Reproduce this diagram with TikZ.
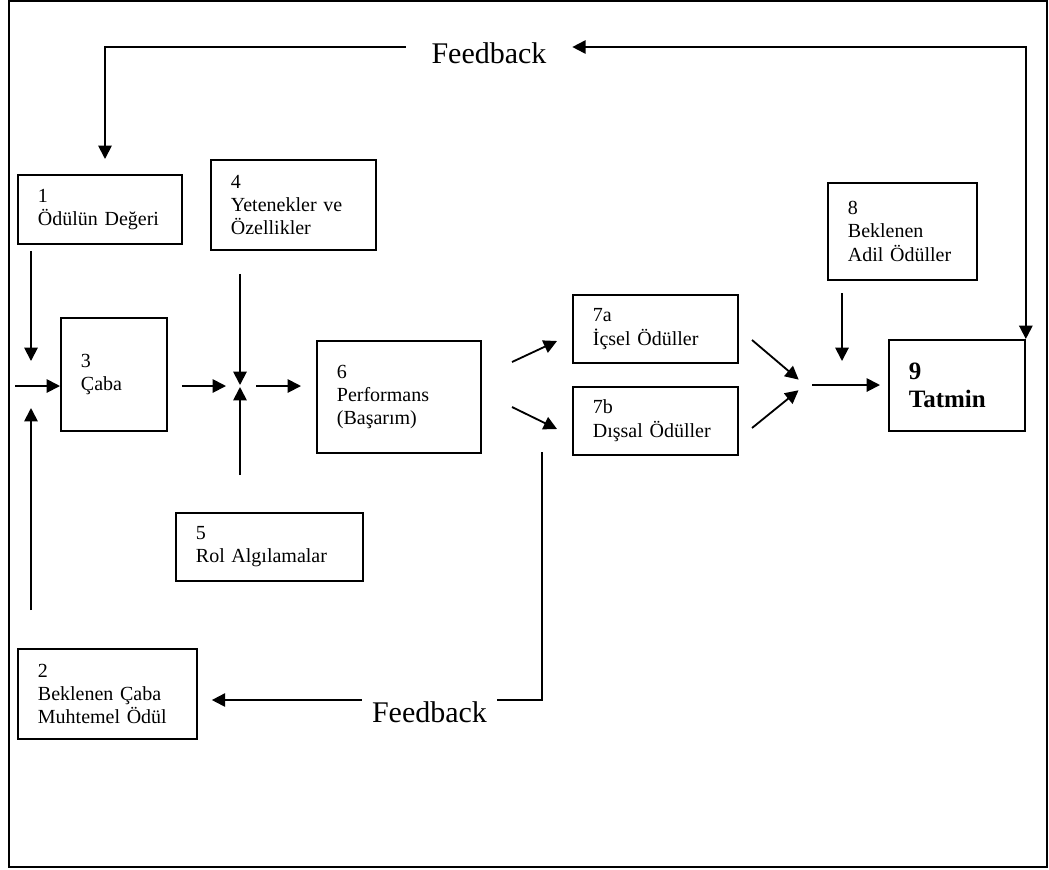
\documentclass[tikz,border=0pt]{standalone}
\usepackage{fontspec}
\setmainfont{Liberation Serif}
\usetikzlibrary{arrows.meta,positioning}
\tikzset{
	kutu/.style={rectangle, draw=black, line width=1.1pt, anchor=north west, align=left,
		inner xsep=12pt, inner ysep=0pt, font=\fontsize{12pt}{14pt}\selectfont},
	fbyazi/.style={font=\fontsize{18pt}{20pt}\selectfont, anchor=base, inner ysep=0pt},
	ok/.style={-{Triangle[length=8pt,width=8pt]}, line width=1.1pt},
	ciftok/.style={{Triangle[length=8pt,width=8pt]}-{Triangle[length=8pt,width=8pt]}, line width=1.1pt},
	cizgi/.style={line width=1.1pt}
}

\begin{document}
\begin{tikzpicture}[x=0.6pt, y=-0.6pt]
			\useasboundingbox (0,0) rectangle (1049,869);
			\draw[line width=1.2pt] (9,1) rectangle (1047,867);
			% kutular
			\node[kutu, text width=74.4pt, minimum height=41.4pt] (b1) at (17,174) {1\\Ödülün Değeri};
			\node[kutu, text width=83.4pt, minimum height=54pt] (b2) at (17,648) {2\\Beklenen Çaba\\Muhtemel Ödül};
			\node[kutu, text width=39.6pt, minimum height=67.8pt] (b3) at (60,317) {3\\Çaba};
			\node[kutu, text width=75pt, minimum height=54pt] (b4) at (210,159) {4\\Yetenekler ve\\Özellikler};
			\node[kutu, text width=88.2pt, minimum height=40.8pt] (b5) at (175,512) {5\\Rol Algılamalar};
			\node[kutu, text width=74.4pt, minimum height=67.2pt] (b6) at (316,340) {6\\Performans\\(Başarım)};
			\node[kutu, text width=75pt, minimum height=40.8pt] (b7a) at (572,294) {7a\\İçsel Ödüller};
			\node[kutu, text width=75pt, minimum height=40.8pt, below=13.2pt of b7a] (b7b) {7b\\Dışsal Ödüller};
			\node[kutu, text width=65.4pt, minimum height=58.2pt] (b8) at (827,182) {8\\Beklenen\\Adil Ödüller};
			\node[kutu, text width=57.6pt, minimum height=54.6pt, font=\bfseries\fontsize{15pt}{17pt}\selectfont] (b9) at (888,339) {9\\Tatmin};
			% feedback yazilari
			\node[fbyazi, inner xsep=15.3pt] (fbt) at (489,63) {Feedback};
			\node[fbyazi, inner xsep=6pt] (fbb) at (429.5,722) {Feedback};
			% bos uclar
			\coordinate (sol) at (31,386);
			\coordinate (giris) at (15,386);
			\coordinate (jn) at (240,386);
			\coordinate (mg) at (805,385);
			\coordinate (ust) at (105,47);
			\coordinate (alt) at (542,700);
			\coordinate (fbs) at (542,452);
			\coordinate (p6a) at (512,362);
			\coordinate (p7a) at (557,341);
			\coordinate (p6b) at (512,407);
			\coordinate (p7b) at (557,429);
			\coordinate (q7a) at (752,340);
			\coordinate (q7b) at (752,428);
			\coordinate (r8) at (842,293);
			\coordinate (r9) at (842,361);
			% oklar
			\draw[ok] (fbt.west |- ust) -| ([yshift=9pt]b1.north -| ust);
			\draw[ciftok] (fbt.east |- ust) -| (b9.north east);
			\draw[ok, shorten <=3.6pt, shorten >=15pt] (sol |- b1.south) -- (sol);
			\draw[ok, shorten <=22.8pt, shorten >=13.2pt] (sol |- b2.north) -- (sol);
			\draw[ok] (giris) -- (b3.west |- sol);
			\draw[ok, shorten <=8.4pt, shorten >=8.4pt] (b3.east |- jn) -- (jn);
			\draw[ok, shorten <=13.8pt, shorten >=0.6pt] (jn |- b4.south) -- (jn);
			\draw[ok, shorten <=22.2pt, shorten >=0.6pt] (jn |- b5.north) -- (jn);
			\draw[ok, shorten <=9.6pt, shorten >=9pt] (jn) -- (b6.west |- jn);
			\draw[ok] (p6a) -- (p7a);
			\draw[ok] (p6b) -- (p7b);
			\draw[ok, shorten >=5pt] (q7a) -- (mg);
			\draw[ok, shorten >=5pt] (q7b) -- (mg);
			\draw[ok, shorten <=4.2pt, shorten >=4.8pt] (mg) -- (b9.west |- mg);
			\draw[ok] (r8) -- (r9);
			\draw[cizgi] (fbs) |- (fbb.east |- alt);
			\draw[ok, shorten >=8.4pt] (fbb.west |- alt) -- (b2.east |- alt);
		\end{tikzpicture}
\end{document}
